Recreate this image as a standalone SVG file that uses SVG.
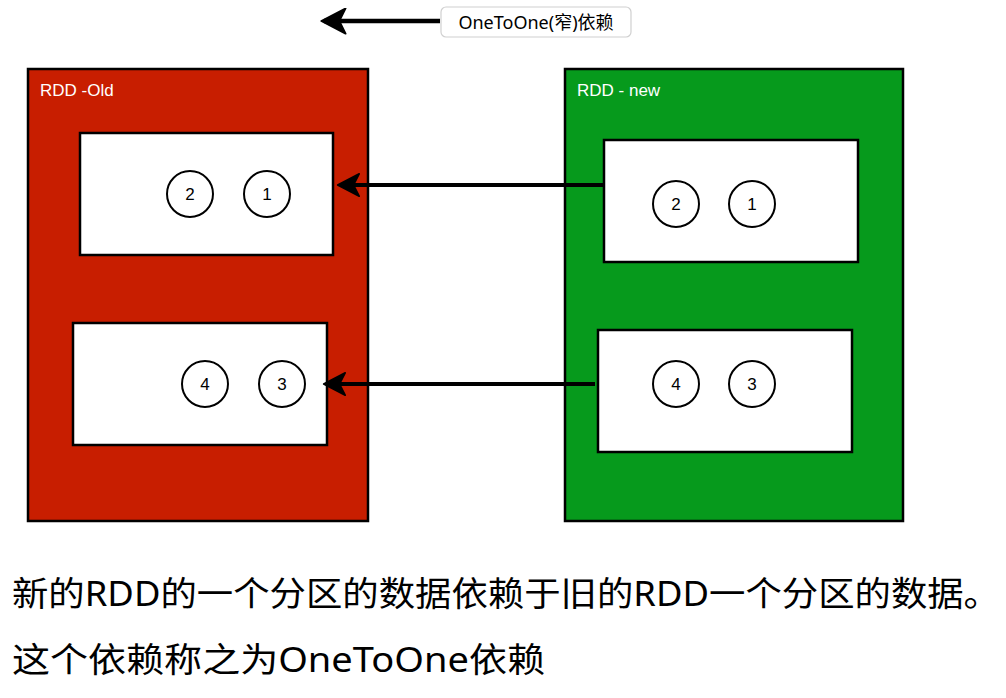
<svg xmlns="http://www.w3.org/2000/svg" width="1006" height="698" viewBox="0 0 1006 698">
<defs>
<style>
.box{stroke:#000;stroke-width:2.5}
.inner{fill:#fff;stroke:#000;stroke-width:2.5}
.circ{fill:#fff;stroke:#000;stroke-width:2}
.num{font-family:"Liberation Sans",Arial,sans-serif;font-size:17px;fill:#000;text-anchor:middle}
.title{font-family:"Liberation Sans",Arial,sans-serif;font-size:17px;fill:#fff}
.conn{stroke:#000;stroke-width:4;fill:none}
.cap{font-family:"Noto Sans","Noto Sans CJK SC",sans-serif;font-size:34px;fill:#000}
</style>
<marker id="ah" markerWidth="6" markerHeight="6" refX="5" refY="3" orient="auto" markerUnits="strokeWidth">
<path d="M0.2,0.2 L5.6,3 L0.2,5.8 L1.6,3 Z" fill="#000" stroke="#000" stroke-width="0.4" stroke-linejoin="round"/>
</marker>
</defs>
<rect width="1006" height="698" fill="#fff"/>

<g id="legend">
<line x1="440" y1="21" x2="324" y2="21" stroke="#000" stroke-width="4.5" marker-end="url(#ah)"/>
<rect x="441" y="7" width="190" height="30" rx="5" fill="#fff" stroke="#d0d0d0" stroke-width="1.2"/>
<text x="536" y="29" font-family="Noto Sans,Noto Sans CJK SC,sans-serif" font-size="18" text-anchor="middle" fill="#000">OneToOne(窄)依赖</text>
</g>

<g id="rdd-old">
<rect class="box" x="28" y="69" width="340" height="452" fill="#c81e00"/>
<text class="title" x="40" y="96">RDD -Old</text>
</g>
<g id="old-p1">
<rect class="inner" x="80" y="133" width="253" height="122"/>
<circle class="circ" cx="190" cy="194" r="23"/><text class="num" x="190" y="200">2</text>
<circle class="circ" cx="267" cy="194" r="23"/><text class="num" x="267" y="200">1</text>
</g>
<g id="old-p2">
<rect class="inner" x="73" y="323" width="254" height="122"/>
<circle class="circ" cx="205" cy="384" r="23"/><text class="num" x="205" y="390">4</text>
<circle class="circ" cx="282" cy="384" r="23"/><text class="num" x="282" y="390">3</text>
</g>

<g id="rdd-new">
<rect class="box" x="565" y="69" width="338" height="452" fill="#069a1c"/>
<text class="title" x="577" y="96">RDD - new</text>
</g>
<g id="new-p1">
<rect class="inner" x="604" y="140" width="254" height="122"/>
<circle class="circ" cx="676" cy="204" r="23"/><text class="num" x="676" y="210">2</text>
<circle class="circ" cx="752" cy="204" r="23"/><text class="num" x="752" y="210">1</text>
</g>
<g id="new-p2">
<rect class="inner" x="598" y="330" width="254" height="122"/>
<circle class="circ" cx="676" cy="384" r="23"/><text class="num" x="676" y="390">4</text>
<circle class="circ" cx="752" cy="384" r="23"/><text class="num" x="752" y="390">3</text>
</g>

<g id="connectors">
<line class="conn" x1="604" y1="185" x2="340" y2="185" marker-end="url(#ah)"/>
<line class="conn" x1="595" y1="384" x2="326" y2="384" marker-end="url(#ah)"/>
</g>

<g id="caption">
<text class="cap" x="12" y="606" textLength="988" lengthAdjust="spacingAndGlyphs">新的RDD的一个分区的数据依赖于旧的RDD一个分区的数据。</text>
<text class="cap" x="12" y="672" textLength="533" lengthAdjust="spacingAndGlyphs">这个依赖称之为OneToOne依赖</text>
</g>
</svg>
